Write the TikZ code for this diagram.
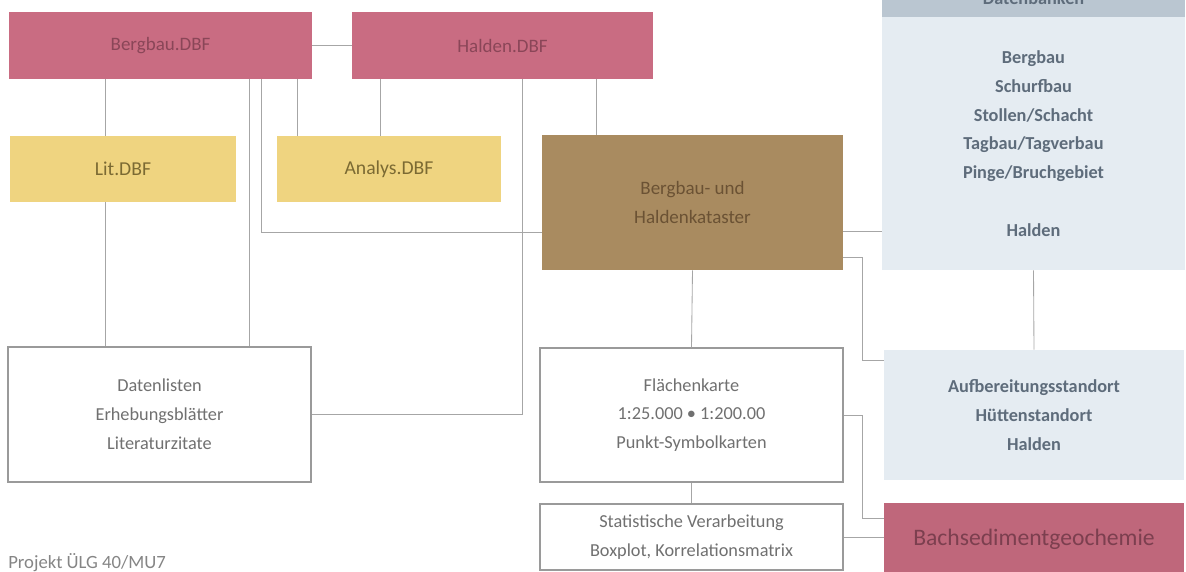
\documentclass[tikz,border=0pt]{standalone}
\usepackage{fontspec}
\setmainfont{Carlito}
\usetikzlibrary{positioning}
\definecolor{kaRose}{HTML}{C96C82}
\definecolor{kaRoseText}{HTML}{8A4658}
\definecolor{kaSand}{HTML}{EFD480}
\definecolor{kaSandText}{HTML}{7B6A33}
\definecolor{kaBrown}{HTML}{A98B60}
\definecolor{kaBrownText}{HTML}{6B5234}
\definecolor{kaMist}{HTML}{E5ECF2}
\definecolor{kaSlate}{HTML}{BAC6D1}
\definecolor{kaMistText}{HTML}{5E6C7B}
\definecolor{kaFrame}{HTML}{9A9A9A}
\definecolor{kaGrey}{HTML}{707070}
\definecolor{kaLine}{HTML}{A6A6A6}
\newcommand{\pxlen}{0.025cm}
\tikzset{
  wh/.style 2 args={minimum width=#1*\pxlen, minimum height=#2*\pxlen},
  boxtxt/.style={align=center, inner sep=0pt, font=\fontsize{13}{20.5}\selectfont},
  dbf/.style={boxtxt, fill=kaRose, text=kaRoseText, font=\fontsize{13.5}{20.5}\selectfont},
  aux/.style={boxtxt, fill=kaSand, text=kaSandText, font=\fontsize{14}{20.5}\selectfont},
  kat/.style={boxtxt, fill=kaBrown, text=kaBrownText, font=\fontsize{13.5}{21}\selectfont},
  dbbox/.style={boxtxt, fill=kaMist, text=kaMistText, font=\bfseries\fontsize{13}{20.5}\selectfont},
  dbhead/.style={boxtxt, fill=kaSlate, text=kaMistText, font=\bfseries\fontsize{13}{20.5}\selectfont},
  product/.style={boxtxt, draw=kaFrame, line width=0.9pt, fill=white, text=kaGrey},
  geo/.style={boxtxt, fill=kaRose!95!black, text=kaRoseText!90!black, font=\fontsize{16.8}{20}\selectfont},
  note/.style={font=\fontsize{13.3}{15}\selectfont, text=kaGrey!85, inner sep=0pt},
  link/.style={draw=kaLine, line width=0.6pt},
}

\begin{document}
\begin{tikzpicture}[x=\pxlen, y=-\pxlen]
  \useasboundingbox (0,0) rectangle (1186,572);
  \clip (0,0) rectangle (1186,572);
  % databases
  \node[dbf, wh={303}{67}] (bergbau) at (160.5,45.5) {Bergbau.DBF};
  \node[dbf, wh={301}{67}] (halden) at (502.5,45.5) {Halden.DBF};
  \node[aux, wh={226}{66}] (lit) at (123,169) {Lit.DBF};
  \node[aux, wh={224}{66}] (analys) at (389,169) {Analys.DBF};
  \node[kat, wh={301}{135}] (kataster) at (692.5,202.5) {Bergbau- und\\Haldenkataster};
  \node[dbhead, wh={303}{38}] (dbhead) at (1033.5,-2) {Datenbanken};
  \node[dbbox, wh={303}{253}] (dbbody) at (1033.5,143.5)
    {Bergbau\\Schurfbau\\Stollen/Schacht\\Tagbau/Tagverbau\\Pinge/Bruchgebiet\\[20.5pt]Halden};
  % products
  \node[product, wh={303}{135}] (datenlisten) at (159.5,414.5)
    {Datenlisten\\Erhebungsblätter\\Literaturzitate};
  \node[product, wh={303}{134}] (flaechen) at (691.5,415)
    {Flächenkarte\\1:25.000 \textbullet{} 1:200.00\\Punkt-Symbolkarten};
  \node[dbbox, wh={300}{130}] (aufber) at (1034,415)
    {Aufbereitungsstandort\\Hüttenstandort\\Halden};
  \node[product, wh={303}{66}] (statistik) at (691.5,537)
    {Statistische Verarbeitung\\Boxplot, Korrelationsmatrix};
  \node[geo, wh={300}{72}] (bachsed) at (1034,539) {Bachsedimentgeochemie};
  \node[note, anchor=west] (projekt) at (8,563) {Projekt ÜLG 40/MU7};
  % connectors
  \draw[link] (bergbau.east) -- (halden.west);
  \draw[link] (bergbau.south -| 105,0) -- (lit.north -| 105,0);
  \draw[link] (lit.south -| 105,0) -- (datenlisten.north -| 105,0);
  \draw[link] (bergbau.south -| 249,0) -- (datenlisten.north -| 249,0);
  \draw[link] (bergbau.south -| 261,0) |- (kataster.west |- 0,232);
  \draw[link] (bergbau.south -| 297,0) -- (analys.north -| 297,0);
  \draw[link] (halden.south -| 380,0) -- (analys.north -| 380,0);
  \draw[link] (halden.south -| 522,0) |- (datenlisten.east);
  \draw[link] (halden.south -| 596,0) -- (kataster.north -| 596,0);
  \draw[link] (kataster.east |- 0,231) -- (dbbody.west |- 0,231);
  \draw[link] (kataster.east |- 0,257) -- ++(19,0) |- (aufber.west |- 0,360);
  \draw[link] (kataster.south) -- (flaechen.north);
  \draw[link] (dbbody.south) -- (aufber.north);
  \draw[link] (flaechen.east) -- ++(19,0) |- (bachsed.west |- 0,518);
  \draw[link] (flaechen.south) -- (statistik.north);
  \draw[link] (statistik.east) -- (bachsed.west |- statistik.east);
\end{tikzpicture}
\end{document}
